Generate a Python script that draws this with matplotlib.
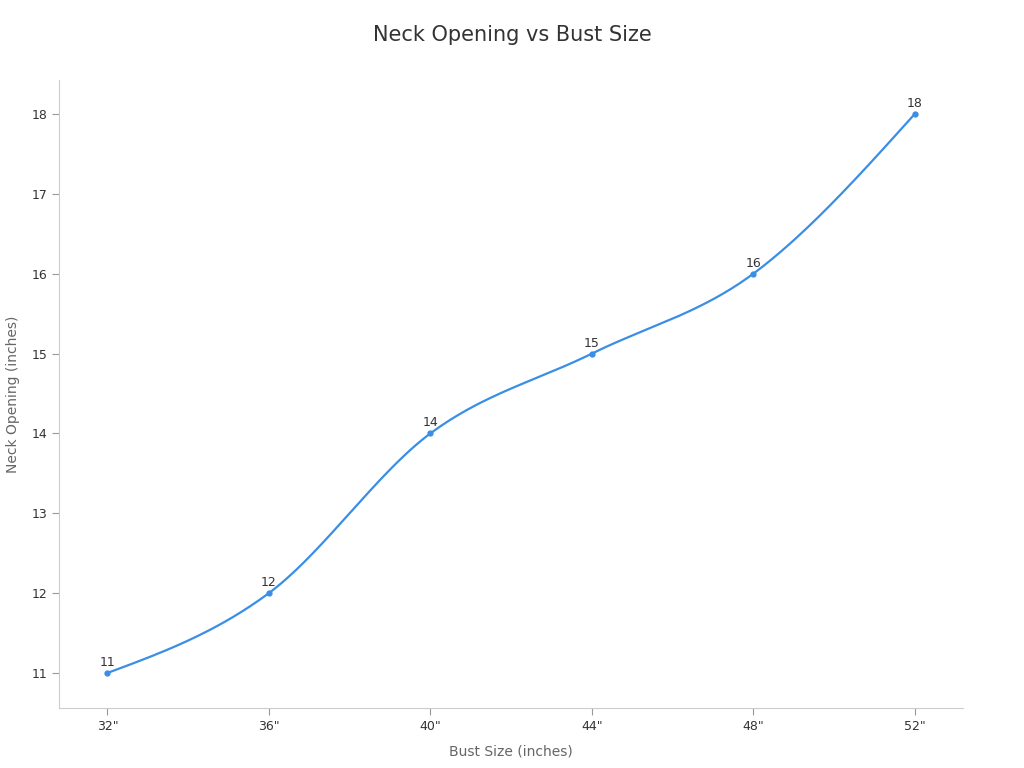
import matplotlib
matplotlib.use("Agg")
import matplotlib.pyplot as plt
import numpy as np

# data
bust_sizes = ['32"', '36"', '40"', '44"', '48"', '52"']
neck_opening = [11, 12, 14, 15, 16, 18]

line_color = "#3a8ee6"


def monotone_curve(x, y, n=60):
    # monotone cubic (d3 curveMonotoneX style) for drawing the smooth line
    x = np.asarray(x, float)
    y = np.asarray(y, float)
    h = np.diff(x)
    s = np.diff(y) / h
    t = np.zeros_like(y)
    for i in range(1, len(y) - 1):
        p = (s[i - 1] * h[i] + s[i] * h[i - 1]) / (h[i - 1] + h[i])
        t[i] = (np.sign(s[i - 1]) + np.sign(s[i])) * min(abs(s[i - 1]), abs(s[i]), 0.5 * abs(p))
    t[0] = (3 * s[0] - t[1]) / 2
    t[-1] = (3 * s[-1] - t[-2]) / 2
    xs, ys = [], []
    u = np.linspace(0, 1, n)
    for i in range(len(x) - 1):
        h00 = 2 * u**3 - 3 * u**2 + 1
        h10 = u**3 - 2 * u**2 + u
        h01 = -2 * u**3 + 3 * u**2
        h11 = u**3 - u**2
        xs.append(x[i] + u * h[i])
        ys.append(h00 * y[i] + h10 * h[i] * t[i] + h01 * y[i + 1] + h11 * h[i] * t[i + 1])
    return np.concatenate(xs), np.concatenate(ys)


fig = plt.figure(figsize=(10.24, 7.68), dpi=100)
ax = fig.add_axes([0.0576, 0.078, 0.8828, 0.818])

xpos = np.arange(len(bust_sizes))
cx, cy = monotone_curve(xpos, neck_opening)
ax.plot(cx, cy, color=line_color, lw=1.6, solid_capstyle="round")
ax.plot(xpos, neck_opening, "o", color=line_color, ms=3.5)

for xi, yi in zip(xpos, neck_opening):
    ax.annotate(str(yi), (xi, yi), xytext=(0, 3), textcoords="offset points",
                ha="center", va="bottom", fontsize=9, color="#333333")

ax.set_xlim(-0.3, 5.3)
ax.set_ylim(10.56, 18.43)
ax.set_xticks(xpos)
ax.set_xticklabels(bust_sizes)
ax.set_yticks(range(11, 19))

for side in ["top", "right"]:
    ax.spines[side].set_visible(False)
for side in ["left", "bottom"]:
    ax.spines[side].set_color("#cccccc")
ax.tick_params(colors="#999999", labelcolor="#333333", labelsize=9, length=5)

ax.set_xlabel("Bust Size (inches)", fontsize=10, color="#666666", labelpad=8)
ax.set_ylabel("Neck Opening (inches)", fontsize=10, color="#666666", labelpad=8)
fig.suptitle("Neck Opening vs Bust Size", fontsize=15, color="#333333", y=0.968)

fig.savefig("out.png", dpi=100)
